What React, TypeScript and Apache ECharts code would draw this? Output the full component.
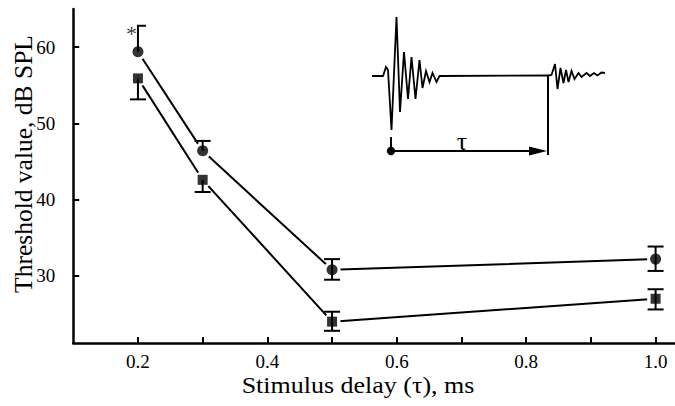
import React, { useEffect, useRef } from 'react';
import * as echarts from 'echarts';

// ---- data ----
const delays = [0.2, 0.3, 0.5, 1.0];
const circleMeans = [59.4, 46.4, 30.8, 32.2];
const circleLow = [59.4, 46.4, 29.5, 30.65];
const circleHigh = [62.8, 47.7, 32.2, 33.85];
const circleCapLow = [0, 0, 1, 1]; // 0 none, 1 full cap, 2 half cap
const circleCapHigh = [2, 1, 1, 1];
const squareMeans = [55.9, 42.6, 24.0, 27.0];
const squareLow = [53.15, 41.0, 22.8, 25.6];
const squareHigh = [55.9, 42.6, 25.3, 28.25];
const squareCapLow = [1, 1, 1, 1];
const squareCapHigh = [0, 0, 1, 1];
const starDelays = [0.2];
const starValues = [62.8];
const xTickValues = [0.2, 0.3, 0.4, 0.5, 0.6, 0.7, 0.8, 0.9, 1.0];
const xLabelValues = [0.2, 0.4, 0.6, 0.8, 1.0];
const yTickValues = [30, 40, 50, 60];

const FONT = 'Liberation Serif, Times New Roman, serif';

const App: React.FC = () => {
  const ref = useRef<HTMLDivElement>(null);
  useEffect(() => {
    if (!ref.current) return;
    const chart = echarts.init(ref.current, null, { renderer: 'svg' });

    const errData = (lo: number[], hi: number[], cl: number[], ch: number[]) =>
      delays.map((d, i) => [d, lo[i], hi[i], cl[i], ch[i]]);

    const renderErr = (params: any, api: any) => {
      const x = api.value(0);
      const lo = api.value(1);
      const hi = api.value(2);
      const cl = api.value(3);
      const ch = api.value(4);
      const pLo = api.coord([x, lo]);
      const pHi = api.coord([x, hi]);
      const half = 8;
      const st = { stroke: '#000', lineWidth: 2, fill: null };
      const children: any[] = [
        { type: 'line', shape: { x1: pLo[0], y1: pLo[1], x2: pHi[0], y2: pHi[1] }, style: st },
      ];
      const cap = (p: number[], t: number) => {
        if (t === 1)
          children.push({ type: 'line', shape: { x1: p[0] - half, y1: p[1], x2: p[0] + half, y2: p[1] }, style: st });
        else if (t === 2)
          children.push({ type: 'line', shape: { x1: p[0] - 1, y1: p[1], x2: p[0] + half, y2: p[1] }, style: st });
      };
      cap(pLo, cl);
      cap(pHi, ch);
      return { type: 'group', children };
    };

    const wave1 = [[372,76],[383,76],[386,67],[388,70],[391.5,130],[396.5,17],[400,112],[404,52],[408,99],[411.5,57],[415.5,99],[419.5,60],[422.5,88],[426,71],[429.5,82],[432.5,73],[436.5,82],[439.5,76],[548,75.5]];
    const wave2 = [[548,75.5],[551.5,75],[555,64],[557.5,89],[560.5,68],[563.5,83],[566,70],[568.5,82],[571.5,71],[574.5,79],[578.5,73],[581.5,77],[586.5,73],[590,76],[594,73],[597.5,75.5],[601.5,72.5],[605,73]];
    const ls = { stroke: '#000', lineWidth: 1.8, fill: null };

    chart.setOption({
      animation: false,
      backgroundColor: '#fff',
      grid: { left: 73.25, right: 0, top: 9, bottom: 63 },
      xAxis: {
        type: 'value',
        min: 0.1,
        max: 1.03,
        splitLine: { show: false },
        axisLine: { show: true, onZero: false, lineStyle: { color: '#000', width: 2.5 } },
        axisTick: { show: true, inside: true, length: 6, customValues: xTickValues, lineStyle: { color: '#000', width: 2 } },
        axisLabel: { show: true, customValues: xLabelValues, formatter: (v: number) => v.toFixed(1), color: '#000', fontFamily: FONT, fontSize: 19, margin: 9 },
      },
      yAxis: {
        type: 'value',
        min: 21.2,
        max: 65,
        splitLine: { show: false },
        axisLine: { show: true, onZero: false, lineStyle: { color: '#000', width: 2.5 } },
        axisTick: { show: true, inside: true, length: 6, customValues: yTickValues, lineStyle: { color: '#000', width: 2 } },
        axisLabel: { show: true, customValues: yTickValues, color: '#000', fontFamily: FONT, fontSize: 19, margin: 18 },
      },
      series: [
        {
          type: 'line', z: 2,
          data: delays.map((d, i) => [d, circleMeans[i]]),
          symbol: 'circle', symbolSize: 17,
          itemStyle: { color: '#fff', borderWidth: 0 },
          lineStyle: { color: '#000', width: 2 },
          silent: true,
        },
        {
          type: 'line', z: 2,
          data: delays.map((d, i) => [d, squareMeans[i]]),
          symbol: 'circle', symbolSize: 17,
          itemStyle: { color: '#fff', borderWidth: 0 },
          lineStyle: { color: '#000', width: 2 },
          silent: true,
        },
        {
          type: 'custom', z: 3,
          renderItem: renderErr,
          data: errData(circleLow, circleHigh, circleCapLow, circleCapHigh),
          silent: true,
        },
        {
          type: 'custom', z: 3,
          renderItem: renderErr,
          data: errData(squareLow, squareHigh, squareCapLow, squareCapHigh),
          silent: true,
        },
        {
          type: 'scatter', z: 4,
          data: delays.map((d, i) => [d, circleMeans[i]]),
          symbol: 'circle', symbolSize: 11,
          itemStyle: { color: '#000' },
          silent: true,
        },
        {
          type: 'scatter', z: 4,
          data: delays.map((d, i) => [d, squareMeans[i]]),
          symbol: 'rect', symbolSize: 10,
          itemStyle: { color: '#000' },
          silent: true,
        },
        {
          type: 'scatter', z: 4,
          data: starDelays.map((d, i) => [d, starValues[i]]),
          symbolSize: 0,
          label: { show: true, formatter: '*', position: 'left', distance: 1, offset: [0, 8], color: '#000', fontFamily: FONT, fontSize: 22 },
          silent: true,
        },
      ],
      graphic: [
        {
          type: 'text', x: 358, y: 386, scaleY: 0.85,
          style: { text: 'Stimulus delay (\u03c4), ms', fontFamily: FONT, fontSize: 26, fill: '#000', align: 'center', verticalAlign: 'middle' },
          silent: true,
        },
        {
          type: 'text', x: 23, y: 164, rotation: Math.PI / 2,
          style: { text: 'Threshold value, dB SPL', fontFamily: FONT, fontSize: 25.5, fill: '#000', align: 'center', verticalAlign: 'middle' },
          silent: true,
        },
        { type: 'polyline', shape: { points: wave1 }, style: ls, silent: true },
        { type: 'polyline', shape: { points: wave2 }, style: ls, silent: true },
        { type: 'line', shape: { x1: 548, y1: 75.5, x2: 548, y2: 155 }, style: { stroke: '#000', lineWidth: 2 }, silent: true },
        { type: 'line', shape: { x1: 391, y1: 137, x2: 391, y2: 151 }, style: { stroke: '#000', lineWidth: 2 }, silent: true },
        { type: 'line', shape: { x1: 391, y1: 151, x2: 540, y2: 151 }, style: { stroke: '#000', lineWidth: 1.8 }, silent: true },
        { type: 'polygon', shape: { points: [[529, 146.5], [547, 151], [529, 155.5]] }, style: { fill: '#000' }, silent: true },
        { type: 'circle', shape: { cx: 391, cy: 151, r: 4.2 }, style: { fill: '#000' }, silent: true },
        {
          type: 'text', x: 462, y: 141,
          style: { text: '\u03c4', fontFamily: FONT, fontSize: 26, fill: '#000', align: 'center', verticalAlign: 'middle' },
          silent: true,
        },
      ],
    });
    return () => chart.dispose();
  }, []);
  return <div ref={ref} style={{ position: 'absolute', left: 0, top: 0, width: 675, height: 406 }} />;
};

export default App;
